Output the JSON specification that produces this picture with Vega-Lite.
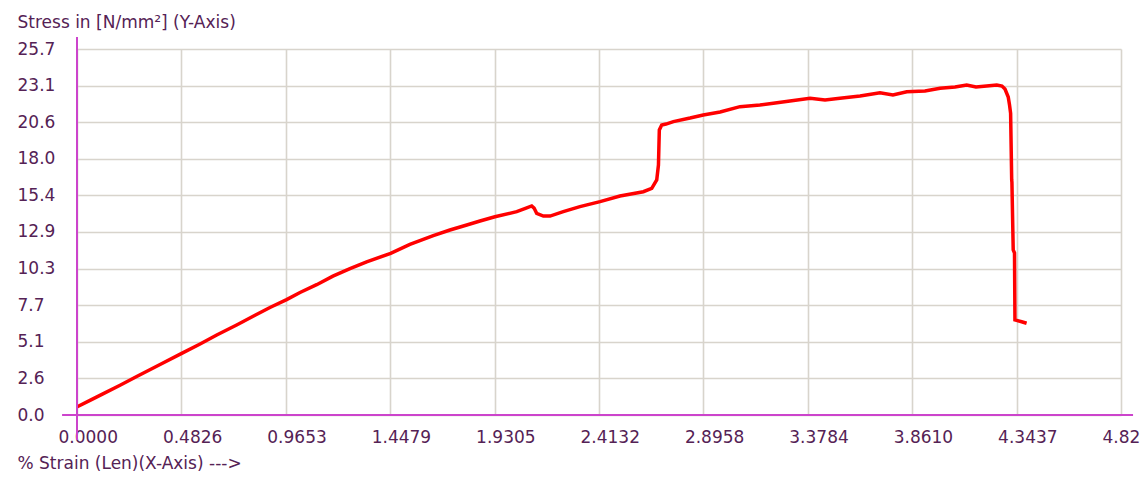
{
  "$schema": "https://vega.github.io/schema/vega-lite/v6.json",
  "width": 1044,
  "height": 366,
  "autosize": {"type": "none"},
  "padding": {"left": 77, "top": 49, "right": 23, "bottom": 70},
  "background": "#ffffff",
  "config": {
    "view": {"stroke": null},
    "font": "DejaVu Sans",
    "axis": {
      "labelFont": "DejaVu Sans",
      "titleFont": "DejaVu Sans",
      "labelColor": "#552255",
      "titleColor": "#552255",
      "labelFontSize": 17,
      "titleFontSize": 17,
      "titleFontWeight": "normal",
      "gridColor": "#d8d4cc",
      "gridWidth": 1.6,
      "gridOpacity": 1,
      "domain": false,
      "ticks": false,
      "tickSize": 0
    }
  },
  "layer": [
    {
      "data": {"name": "curve", "values": [
        {"strain": 0.0014, "stress": 0.58},
        {"strain": 0.060, "stress": 1.03},
        {"strain": 0.122, "stress": 1.50},
        {"strain": 0.199, "stress": 2.09},
        {"strain": 0.276, "stress": 2.70},
        {"strain": 0.384, "stress": 3.55},
        {"strain": 0.484, "stress": 4.33},
        {"strain": 0.569, "stress": 4.99},
        {"strain": 0.646, "stress": 5.62},
        {"strain": 0.738, "stress": 6.32},
        {"strain": 0.823, "stress": 7.00},
        {"strain": 0.892, "stress": 7.55},
        {"strain": 0.969, "stress": 8.10},
        {"strain": 1.031, "stress": 8.60},
        {"strain": 1.108, "stress": 9.15},
        {"strain": 1.183, "stress": 9.75},
        {"strain": 1.262, "stress": 10.28},
        {"strain": 1.339, "stress": 10.76},
        {"strain": 1.450, "stress": 11.35},
        {"strain": 1.539, "stress": 11.98},
        {"strain": 1.647, "stress": 12.60},
        {"strain": 1.724, "stress": 12.99},
        {"strain": 1.802, "stress": 13.34},
        {"strain": 1.863, "stress": 13.62},
        {"strain": 1.932, "stress": 13.92},
        {"strain": 2.033, "stress": 14.28},
        {"strain": 2.076, "stress": 14.53},
        {"strain": 2.102, "stress": 14.68},
        {"strain": 2.113, "stress": 14.53},
        {"strain": 2.125, "stress": 14.16},
        {"strain": 2.156, "stress": 13.97},
        {"strain": 2.187, "stress": 13.97},
        {"strain": 2.248, "stress": 14.28},
        {"strain": 2.325, "stress": 14.63},
        {"strain": 2.418, "stress": 14.98},
        {"strain": 2.510, "stress": 15.38},
        {"strain": 2.618, "stress": 15.68},
        {"strain": 2.657, "stress": 15.92},
        {"strain": 2.680, "stress": 16.50},
        {"strain": 2.688, "stress": 17.55},
        {"strain": 2.692, "stress": 20.01},
        {"strain": 2.703, "stress": 20.36},
        {"strain": 2.723, "stress": 20.43},
        {"strain": 2.757, "stress": 20.60},
        {"strain": 2.834, "stress": 20.85},
        {"strain": 2.895, "stress": 21.07},
        {"strain": 2.973, "stress": 21.28},
        {"strain": 3.065, "stress": 21.65},
        {"strain": 3.157, "stress": 21.77},
        {"strain": 3.219, "stress": 21.89},
        {"strain": 3.296, "stress": 22.05},
        {"strain": 3.389, "stress": 22.24},
        {"strain": 3.458, "stress": 22.12},
        {"strain": 3.527, "stress": 22.24},
        {"strain": 3.620, "stress": 22.40},
        {"strain": 3.712, "stress": 22.63},
        {"strain": 3.772, "stress": 22.47},
        {"strain": 3.836, "stress": 22.70},
        {"strain": 3.920, "stress": 22.75},
        {"strain": 3.990, "stress": 22.94},
        {"strain": 4.059, "stress": 23.03},
        {"strain": 4.113, "stress": 23.17},
        {"strain": 4.156, "stress": 23.03},
        {"strain": 4.205, "stress": 23.10},
        {"strain": 4.252, "stress": 23.17},
        {"strain": 4.276, "stress": 23.10},
        {"strain": 4.290, "stress": 22.89},
        {"strain": 4.305, "stress": 22.33},
        {"strain": 4.311, "stress": 21.77},
        {"strain": 4.316, "stress": 21.18},
        {"strain": 4.321, "stress": 16.50},
        {"strain": 4.322, "stress": 16.36},
        {"strain": 4.328, "stress": 11.59},
        {"strain": 4.334, "stress": 11.38},
        {"strain": 4.336, "stress": 6.67},
        {"strain": 4.367, "stress": 6.55},
        {"strain": 4.390, "stress": 6.44}
      ]},
      "mark": {"type": "line", "color": "#ff0000", "strokeWidth": 3.5, "strokeJoin": "miter", "clip": false},
      "encoding": {
        "x": {
          "field": "strain", "type": "quantitative",
          "scale": {"domain": [0, 4.8263], "nice": false, "zero": false},
          "axis": {
            "values": [0, 0.48263, 0.96526, 1.44789, 1.93052, 2.41316, 2.89578, 3.37841, 3.86104, 4.34367, 4.8263],
            "tickCount": 30,
            "format": ".4f",
            "labelExpr": "datum.value > 4.8 ? '4.82' : datum.label",
            "labelAlign": "left",
            "labelOffset": -19,
            "labelBaseline": "middle",
            "labelPadding": 22,
            "labelFlush": false,
            "labelOverlap": false,
            "labelBound": false,
            "grid": true,
            "title": "% Strain (Len)(X-Axis) --->",
            "titleX": -60,
            "titleY": 48,
            "titleAlign": "left",
            "titleBaseline": "middle",
            "titleAnchor": null
          }
        },
        "y": {
          "field": "stress", "type": "quantitative",
          "scale": {"domain": [0, 25.7], "nice": false, "zero": false},
          "axis": {
            "values": [0, 2.57, 5.14, 7.71, 10.28, 12.851, 15.42, 17.99, 20.56, 23.13, 25.7],
            "tickCount": 30,
            "format": ".1f",
            "labelAlign": "left",
            "labelPadding": 60,
            "labelBaseline": "middle",
            "labelFlush": false,
            "labelOverlap": false,
            "labelBound": false,
            "grid": true,
            "title": "Stress in [N/mm²] (Y-Axis)",
            "titleAngle": 0,
            "titleX": -60,
            "titleY": -27,
            "titleAlign": "left",
            "titleBaseline": "middle",
            "titleAnchor": null
          }
        }
      }
    },
    {
      "data": {"values": [{"x": 0, "y1": -1.76, "y2": 26.54}]},
      "mark": {"type": "rule", "color": "#cc44cc", "strokeWidth": 2, "clip": false},
      "encoding": {
        "x": {"field": "x", "type": "quantitative"},
        "y": {"field": "y1", "type": "quantitative"},
        "y2": {"field": "y2"}
      }
    },
    {
      "data": {"values": [{"y": 0, "x1": -0.069, "x2": 4.882}]},
      "mark": {"type": "rule", "color": "#cc44cc", "strokeWidth": 2, "clip": false},
      "encoding": {
        "y": {"field": "y", "type": "quantitative"},
        "x": {"field": "x1", "type": "quantitative"},
        "x2": {"field": "x2"}
      }
    }
  ]
}
